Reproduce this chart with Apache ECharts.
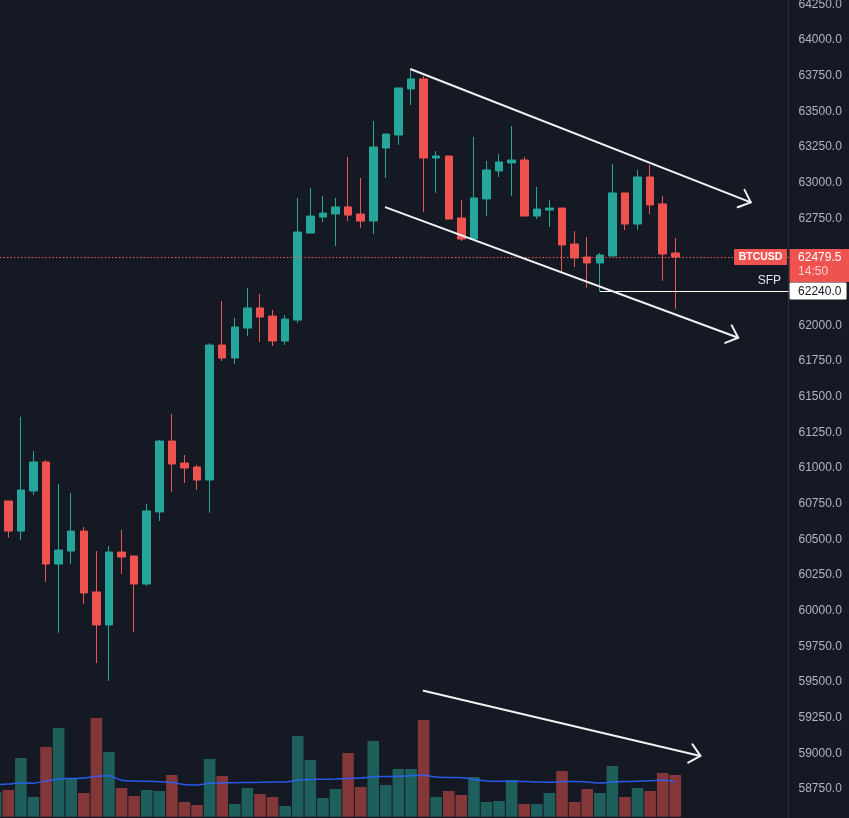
<!DOCTYPE html>
<html><head><meta charset="utf-8">
<script src="https://cdn.jsdelivr.net/npm/echarts@6/dist/echarts.min.js"></script>
<style>html,body{margin:0;padding:0;background:#151924;overflow:hidden}#chart{width:849px;height:818px}</style>
</head><body><div id="chart"></div>
<script>
// ---- data (candles -1 .. 53) ----
const opens  = [60760,60769,60558,60839,61042,60327,60418,60558,60131,59900,60411,60383,60187,60692,61189,61035,61007,60916,61862,61771,61981,62122,62065,61890,62037,62647,62759,62780,62830,62780,62731,63243,63334,63657,63727,63173,63187,62752,62605,62886,63082,63138,63159,62766,62808,62822,62570,62479,62437,62486,62928,62710,63040,62851,62507];
const closes = [60770,60558,60846,61042,60327,60425,60558,60124,59900,60411,60376,60187,60699,61189,61028,61000,60916,61862,61771,61988,62122,62058,61890,62044,62654,62766,62787,62830,62773,62731,63250,63341,63664,63727,63173,63187,62745,62605,62893,63089,63145,63159,62766,62815,62822,62563,62472,62437,62493,62928,62710,63040,62844,62500,62479.5];
const lows   = [60740,60512,60495,60811,60201,59844,60327,60047,59633,59507,60257,59851,60173,60629,60832,60895,60846,60685,61750,61729,61925,61883,61855,61862,62016,62647,62724,62556,62731,62682,62640,63033,63264,63544,62794,62928,62745,62591,62605,62766,63040,62907,62766,62745,62689,62367,62409,62262,62240,62486,62668,62668,62780,62311,62115];
const highs  = [60790,60769,61358,61119,61056,60888,60825,60587,60418,60453,60566,60383,60748,61196,61379,61091,61021,61876,62171,62052,62262,62220,62108,62072,62893,62963,62907,62893,63180,63033,63432,63341,63664,63797,63748,63222,63187,62879,63320,63152,63201,63397,63180,62970,62879,62822,62661,62619,62507,63131,62928,63089,63124,62907,62612];
const volumes = [247,267,587,197,697,887,387,237,987,647,287,207,267,257,417,147,117,577,407,127,287,227,197,107,807,567,187,277,637,297,757,317,477,477,967,197,257,217,397,147,157,367,127,127,237,457,147,277,237,507,197,287,257,437,417];
const volumeMA = [322,327,340,335,357,377,382,387,404,410,364,357,354,350,342,322,317,334,337,340,342,344,347,347,364,372,374,377,382,387,399,402,404,409,414,397,392,390,372,357,354,354,352,347,344,352,352,347,337,347,352,354,359,367,347];
const nCategories = 64;
const categories = Array.from({length: nCategories}, (_, i) => String(i - 1));

// axis ticks
const priceMin = 58500, priceMax = 64500, priceStep = 250;

// annotations in data space: [catStart, priceStart, catEnd, priceEnd]
const trendLines = [
  [33, 63795, 60, 62862],
  [31, 62827, 59, 61913],
  [34, 59439, 56, 58982]
];
const sfpPrice = 62240, sfpStart = 48, sfpEnd = 63;
const symbolName = 'BTCUSD', countdown = '14:50', sfpText = 'SFP';
const lastClose = closes[closes.length - 1];

// ---- layout ----
const band = 12.585, gridLeft = -10.59;
const gridWidth = band * nCategories;
const BG = '#151924', UP = '#26a69a', DOWN = '#ef5350';
const FONT = '"Liberation Sans", Arial, sans-serif';

const ohlc = opens.map((o, i) => [o, closes[i], lows[i], highs[i]]);
const volData = volumes.map((v, i) => ({
  value: v,
  itemStyle: {color: closes[i] >= opens[i] ? '#1e5f5c' : '#843739'}
}));

const chart = echarts.init(document.getElementById('chart'), null, {renderer: 'canvas'});

chart.setOption({
  backgroundColor: BG,
  animation: false,
  grid: [
    {left: gridLeft, top: -31.33, width: gridWidth, height: 856, containLabel: false, outerBoundsMode: 'none'},
    {left: gridLeft, top: 716.7, width: gridWidth, height: 100, containLabel: false, outerBoundsMode: 'none'}
  ],
  xAxis: [
    {type: 'category', data: categories, gridIndex: 0, boundaryGap: true,
     axisLine: {show: false}, axisTick: {show: false}, axisLabel: {show: false}, splitLine: {show: false}},
    {type: 'category', data: categories, gridIndex: 1, boundaryGap: true,
     axisLine: {show: false}, axisTick: {show: false}, axisLabel: {show: false}, splitLine: {show: false}}
  ],
  yAxis: [
    {type: 'value', gridIndex: 0, position: 'right', offset: -(gridLeft + gridWidth - 788.5),
     min: priceMin, max: priceMax, interval: priceStep, scale: true,
     axisLine: {show: true, lineStyle: {color: '#2a2e39', width: 1}},
     axisTick: {show: false}, splitLine: {show: false},
     axisLabel: {color: '#b2b5be', fontSize: 12, fontFamily: FONT, margin: 10,
                 showMinLabel: true, showMaxLabel: true,
                 formatter: v => (Math.abs(v - lastClose) < 100 || Math.abs(v - sfpPrice) < 60) ? '' : v.toFixed(1)}},
    {type: 'value', gridIndex: 1, min: 0, max: 1000, show: false, splitLine: {show: false}}
  ],
  series: [
    {
      type: 'bar', xAxisIndex: 1, yAxisIndex: 1, data: volData, barWidth: '92%',
      silent: true, z: 1
    },
    {
      type: 'line', xAxisIndex: 1, yAxisIndex: 1, data: volumeMA, showSymbol: false, smooth: 0.3,
      lineStyle: {color: '#2962ff', width: 1.5, opacity: 0.9}, silent: true, z: 2
    },
    {
      type: 'candlestick', xAxisIndex: 0, yAxisIndex: 0, data: ohlc, barWidth: 8, z: 3,
      itemStyle: {color: UP, color0: DOWN, borderColor: UP, borderColor0: DOWN, borderWidth: 1},
      emphasis: {disabled: true}, silent: true,
      markLine: {
        silent: true, symbol: ['none', 'none'], label: {show: false}, animation: false,
        emphasis: {disabled: true},
        data: [
          {yAxis: lastClose, lineStyle: {color: '#f05a57', type: [1.5, 2], width: 1.2, opacity: 1}},
          [{coord: [sfpStart, sfpPrice], lineStyle: {color: '#ffffff', width: 1.2, type: 'solid'}},
           {coord: [sfpEnd, sfpPrice]}]
        ]
      }
    },
    {
      type: 'custom', xAxisIndex: 0, yAxisIndex: 0, data: trendLines, clip: false, silent: true, z: 10,
      encode: {x: [0, 2], y: [1, 3]},
      renderItem: (params, api) => {
        const a = api.coord([api.value(0), api.value(1)]);
        const b = api.coord([api.value(2), api.value(3)]);
        const ang = Math.atan2(b[1] - a[1], b[0] - a[0]);
        const L = 14, phi = 42 * Math.PI / 180;
        const w1 = [b[0] + L * Math.cos(ang + Math.PI - phi), b[1] + L * Math.sin(ang + Math.PI - phi)];
        const w2 = [b[0] + L * Math.cos(ang + Math.PI + phi), b[1] + L * Math.sin(ang + Math.PI + phi)];
        const st = {stroke: '#f2f2f2', lineWidth: 2, fill: null, lineCap: 'round', lineJoin: 'round'};
        return {type: 'group', children: [
          {type: 'line', shape: {x1: a[0], y1: a[1], x2: b[0], y2: b[1]}, style: st},
          {type: 'polyline', shape: {points: [w1, b, w2]}, style: st}
        ]};
      }
    }
  ]
});

// ---- price-scale labels, placed from the axis scale ----
const yLast = chart.convertToPixel({yAxisIndex: 0}, lastClose);
const ySfp = chart.convertToPixel({yAxisIndex: 0}, sfpPrice);
const xScale = chart.convertToPixel({xAxisIndex: 0}, sfpEnd); // scale line
chart.setOption({
  graphic: [
    {type: 'rect', z: 100, shape: {x: xScale - 54.5, y: yLast - 8, width: 53, height: 16, r: 1}, style: {fill: DOWN}},
    {type: 'text', z: 101, x: xScale - 28, y: yLast + 0.5,
     style: {text: symbolName, fill: '#ffffff', font: 'bold 10.5px ' + FONT, textAlign: 'center', textVerticalAlign: 'middle'}},
    {type: 'rect', z: 100, shape: {x: xScale + 1, y: yLast - 8, width: 62, height: 33}, style: {fill: DOWN}},
    {type: 'text', z: 101, x: xScale + 9.5, y: yLast + 0.5,
     style: {text: lastClose.toFixed(1), fill: '#ffffff', font: '12px ' + FONT, textAlign: 'left', textVerticalAlign: 'middle'}},
    {type: 'text', z: 101, x: xScale + 9.5, y: yLast + 14.5,
     style: {text: countdown, fill: 'rgba(255,255,255,0.72)', font: '12px ' + FONT, textAlign: 'left', textVerticalAlign: 'middle'}},
    {type: 'rect', z: 100, shape: {x: xScale + 1, y: ySfp - 8.5, width: 57, height: 17, r: 1}, style: {fill: '#ffffff'}},
    {type: 'text', z: 101, x: xScale + 9.5, y: ySfp + 0.5,
     style: {text: sfpPrice.toFixed(1), fill: '#131722', font: '12px ' + FONT, textAlign: 'left', textVerticalAlign: 'middle'}},
    {type: 'text', z: 101, x: xScale - 7.5, y: ySfp - 10.5,
     style: {text: sfpText, fill: '#e0e3eb', font: '12px ' + FONT, textAlign: 'right', textVerticalAlign: 'middle'}}
  ]
});
</script>
</body></html>
